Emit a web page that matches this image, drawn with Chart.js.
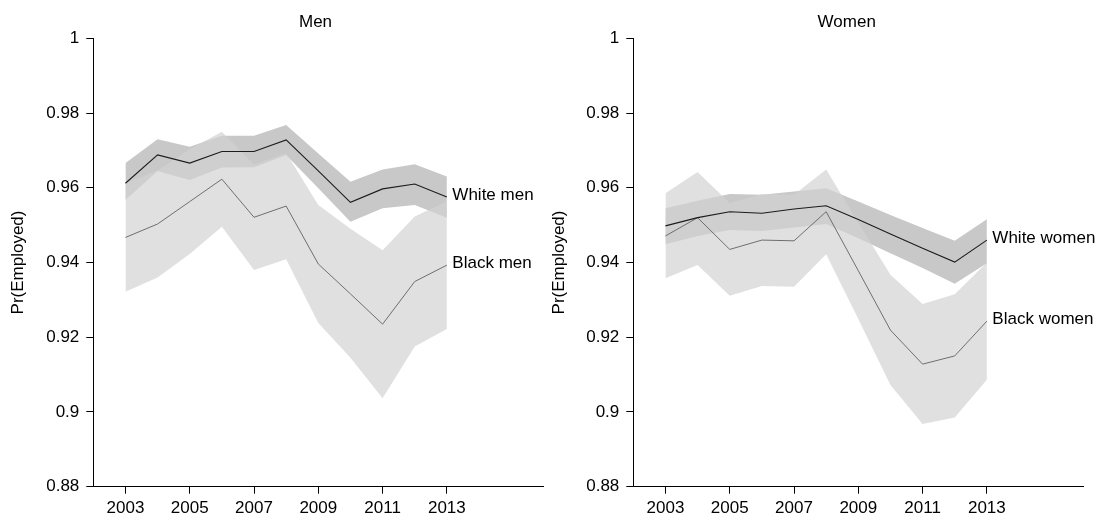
<!DOCTYPE html>
<html>
<head>
<meta charset="utf-8">
<script src="https://cdn.jsdelivr.net/npm/chart.js@4.4.0/dist/chart.umd.min.js"></script>
<style>
  html, body { margin: 0; padding: 0; background: #ffffff; }
  #wrap { position: relative; width: 1098px; height: 514px; overflow: hidden; }
  .panel { position: absolute; top: 0; width: 549px; height: 514px; }
</style>
</head>
<body>
<div id="wrap">
  <div class="panel" style="left:0"><canvas id="men" width="549" height="514"></canvas></div>
  <div class="panel" style="left:549px"><canvas id="women" width="549" height="514"></canvas></div>
</div>
<script>
// Survey years and axis ticks
const years = [2003, 2004, 2005, 2006, 2007, 2008, 2009, 2010, 2011, 2012, 2013];
const xTicks = [2003, 2005, 2007, 2009, 2011, 2013];
const yTicks = [0.88, 0.9, 0.92, 0.94, 0.96, 0.98, 1];
const yTickLabels = ['0.88', '0.9', '0.92', '0.94', '0.96', '0.98', '1'];

// Men: predicted probability of employment with confidence bounds
const whiteMen   = [0.9612, 0.9688, 0.9666, 0.9697, 0.9697, 0.9728, 0.9645, 0.9561, 0.9597, 0.9610, 0.9575];
const whiteMenLo = [0.9567, 0.9645, 0.9621, 0.9654, 0.9655, 0.9688, 0.9599, 0.9509, 0.9545, 0.9554, 0.9520];
const whiteMenHi = [0.9666, 0.9730, 0.9710, 0.9739, 0.9739, 0.9768, 0.9692, 0.9616, 0.9649, 0.9663, 0.9630];
const blackMen   = [0.9467, 0.9503, 0.9563, 0.9623, 0.9521, 0.9551, 0.9396, 0.9316, 0.9235, 0.9349, 0.9393];
const blackMenLo = [0.9322, 0.9360, 0.9423, 0.9496, 0.9380, 0.9409, 0.9238, 0.9145, 0.9037, 0.9175, 0.9222];
const blackMenHi = [0.9612, 0.9646, 0.9703, 0.9750, 0.9662, 0.9693, 0.9554, 0.9490, 0.9433, 0.9523, 0.9564];

// Women
const whiteWomen   = [0.9498, 0.9520, 0.9536, 0.9532, 0.9543, 0.9552, 0.9515, 0.9476, 0.9438, 0.9401, 0.9460];
const whiteWomenLo = [0.9449, 0.9471, 0.9487, 0.9484, 0.9494, 0.9503, 0.9465, 0.9425, 0.9385, 0.9343, 0.9398];
const whiteWomenHi = [0.9545, 0.9565, 0.9583, 0.9581, 0.9590, 0.9599, 0.9563, 0.9527, 0.9492, 0.9458, 0.9516];
const blackWomen   = [0.9471, 0.9520, 0.9435, 0.9460, 0.9458, 0.9536, 0.9378, 0.9219, 0.9128, 0.9150, 0.9243];
const blackWomenLo = [0.9358, 0.9393, 0.9311, 0.9337, 0.9335, 0.9422, 0.9249, 0.9072, 0.8968, 0.8985, 0.9086];
const blackWomenHi = [0.9585, 0.9642, 0.9559, 0.9583, 0.9581, 0.9649, 0.9507, 0.9367, 0.9289, 0.9315, 0.9400];

const FONT_FAMILY = '"Liberation Sans", Arial, Helvetica, sans-serif';
const FONT_SIZE = 17;
const TEXT = '#000000';

const toPoints = vals => years.map((yr, i) => ({ x: yr, y: vals[i] }));

// Panel title drawn above the plot
const panelTitle = {
  id: 'panelTitle',
  afterDraw(chart, args, opts) {
    const ctx = chart.ctx;
    ctx.save();
    ctx.font = FONT_SIZE + 'px ' + FONT_FAMILY;
    ctx.fillStyle = TEXT;
    ctx.textAlign = 'center';
    ctx.textBaseline = 'middle';
    ctx.fillText(opts.text, opts.x, opts.y);
    ctx.restore();
  }
};

// Series names written next to the last point of each line
const endLabels = {
  id: 'endLabels',
  afterDatasetsDraw(chart, args, opts) {
    const ctx = chart.ctx;
    ctx.save();
    ctx.font = FONT_SIZE + 'px ' + FONT_FAMILY;
    ctx.fillStyle = TEXT;
    ctx.textAlign = 'left';
    ctx.textBaseline = 'middle';
    chart.data.datasets.forEach((ds, i) => {
      if (!ds.endLabel) return;
      const pts = chart.getDatasetMeta(i).data;
      const last = pts[pts.length - 1];
      ctx.fillText(ds.label, last.x + opts.dx, last.y + opts.dy);
    });
    ctx.restore();
  }
};

function makePanel(canvasId, cfg) {
  const font = { family: FONT_FAMILY, size: FONT_SIZE };
  const bandLine = 'rgba(0,0,0,0)';
  const datasets = [
    // white group confidence band (darker grey)
    { label: 'wlo', data: toPoints(cfg.whiteLo), borderColor: bandLine, borderWidth: 0, pointRadius: 0, fill: false, order: 4 },
    { label: 'whi', data: toPoints(cfg.whiteHi), borderColor: bandLine, borderWidth: 0, pointRadius: 0, fill: '-1', backgroundColor: 'rgb(200,200,200)', order: 4 },
    // black group confidence band (lighter, translucent grey)
    { label: 'blo', data: toPoints(cfg.blackLo), borderColor: bandLine, borderWidth: 0, pointRadius: 0, fill: false, order: 3 },
    { label: 'bhi', data: toPoints(cfg.blackHi), borderColor: bandLine, borderWidth: 0, pointRadius: 0, fill: '-1', backgroundColor: 'rgba(210,210,210,0.69)', order: 3 },
    // estimates
    { label: cfg.blackName, endLabel: true, data: toPoints(cfg.black), borderColor: '#6e6e6e', borderWidth: 1, pointRadius: 0, fill: false, order: 2 },
    { label: cfg.whiteName, endLabel: true, data: toPoints(cfg.white), borderColor: '#1c1c1c', borderWidth: 1.1, pointRadius: 0, fill: false, order: 1 }
  ];

  return new Chart(document.getElementById(canvasId), {
    type: 'line',
    data: { datasets },
    plugins: [panelTitle, endLabels],
    options: {
      responsive: false,
      animation: false,
      devicePixelRatio: 1,
      layout: { padding: { top: 38.3, right: cfg.padRight, bottom: 0, left: 0 } },
      elements: { line: { tension: 0 } },
      plugins: {
        legend: { display: false },
        tooltip: { enabled: false },
        filler: { propagate: false },
        panelTitle: { text: cfg.title, x: cfg.titleX, y: 22.8 },
        endLabels: { dx: 5.5, dy: -1.5 }
      },
      scales: {
        x: {
          type: 'linear',
          position: 'bottom',
          min: 2002,
          max: 2016,
          afterBuildTicks: s => { s.ticks = xTicks.map(v => ({ value: v })); },
          afterFit: s => { s.height = 27.3; },
          grid: { display: true, drawOnChartArea: false, drawTicks: true, tickLength: 7, color: '#000000', lineWidth: 1 },
          border: { display: true, color: '#000000', width: 1 },
          ticks: {
            font, color: TEXT, padding: 4, autoSkip: false, maxRotation: 0, minRotation: 0,
            callback: v => String(v)
          }
        },
        y: {
          type: 'linear',
          position: 'left',
          min: 0.88,
          max: 1,
          afterBuildTicks: s => { s.ticks = yTicks.map(v => ({ value: v })); },
          afterFit: s => { s.width = cfg.axisLeft; },
          grid: { display: true, drawOnChartArea: false, drawTicks: true, tickLength: 7, color: '#000000', lineWidth: 1 },
          border: { display: true, color: '#000000', width: 1 },
          ticks: {
            font, color: TEXT, padding: 7,
            callback: v => {
              const k = yTicks.findIndex(t => Math.abs(t - v) < 1e-9);
              return k >= 0 ? yTickLabels[k] : '';
            }
          },
          title: { display: true, text: 'Pr(Employed)', font, color: TEXT, padding: { top: cfg.titlePad, bottom: 0 } }
        }
      }
    }
  });
}

makePanel('men', {
  title: 'Men', titleX: 315.5, axisLeft: 93.3, padRight: 5.7, titlePad: 8.1,
  whiteName: 'White men', blackName: 'Black men',
  white: whiteMen, whiteLo: whiteMenLo, whiteHi: whiteMenHi,
  black: blackMen, blackLo: blackMenLo, blackHi: blackMenHi
});

makePanel('women', {
  title: 'Women', titleX: 297.7, axisLeft: 84.3, padRight: 14.7, titlePad: 0,
  whiteName: 'White women', blackName: 'Black women',
  white: whiteWomen, whiteLo: whiteWomenLo, whiteHi: whiteWomenHi,
  black: blackWomen, blackLo: blackWomenLo, blackHi: blackWomenHi
});
</script>
</body>
</html>
